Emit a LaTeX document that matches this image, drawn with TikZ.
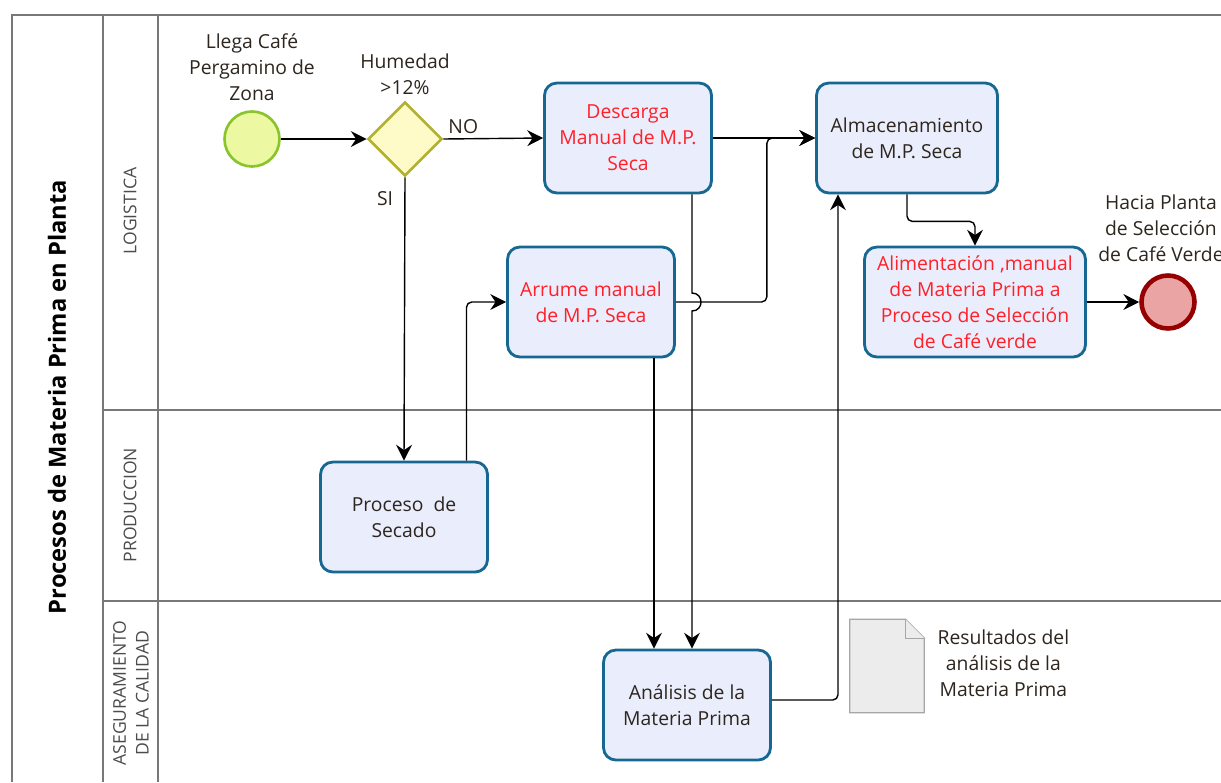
\documentclass[tikz,border=0pt]{standalone}
\usepackage{fontspec}
\setmainfont{Open Sans}
\usetikzlibrary{arrows.meta,shapes.geometric,positioning}
\definecolor{taskfill}{RGB}{234,237,252}
\definecolor{taskline}{RGB}{22,104,146}
\definecolor{poolgray}{RGB}{120,120,120}
\definecolor{txtred}{RGB}{255,32,40}
\definecolor{txtdark}{RGB}{45,38,30}
\definecolor{startfill}{RGB}{236,249,162}
\definecolor{startline}{RGB}{138,196,45}
\definecolor{endfill}{RGB}{234,164,164}
\definecolor{endline}{RGB}{150,0,0}
\definecolor{gatefill}{RGB}{255,251,200}
\definecolor{gateline}{RGB}{178,178,50}
\tikzset{
  txt/.style={align=center, text=txtdark, font=\fontsize{11}{14.7}\selectfont},
  task/.style={txt, draw=taskline, fill=taskfill, line width=1.6pt, rounded corners=7pt,
    minimum width=3.34cm, minimum height=2.2cm, inner sep=2pt},
  redtask/.style={task, text=txtred},
  startev/.style={circle, draw=startline, fill=startfill, line width=1.5pt, minimum size=1.1cm, inner sep=0pt},
  endev/.style={circle, draw=endline, fill=endfill, line width=2.6pt, minimum size=1.06cm, inner sep=0pt},
  gate/.style={diamond, draw=gateline, fill=gatefill, line width=1.5pt, minimum size=1.48cm, inner sep=0pt},
  doc/.style={draw=gray!70, fill=gray!15, line width=0.7pt, line join=round},
  pool/.style={draw=poolgray, line width=1.1pt},
  lanelbl/.style={rotate=90, align=center, text=black!70, font=\fontsize{10}{13}\selectfont},
  flow/.style={-{Stealth[length=9pt,width=9pt,inset=3pt]}, line width=0.8pt, rounded corners=3pt}
}
\begin{document}
\begin{tikzpicture}[x=0.02cm, y=-0.02cm]
\useasboundingbox (0,0) rectangle (1221,782);
\fill[white] (0,0) rectangle (1221,782);
\draw[pool] (12,782) -- (12,15) -- (1221,15);
\draw[pool] (103,15) -- (103,782);
\draw[pool] (158,15) -- (158,782);
\draw[pool] (103,410) -- (1221,410);
\draw[pool] (103,601) -- (1221,601);
\node[rotate=90, font=\fontsize{13.5}{16}\selectfont\bfseries] (pooltitle) at (57,397) {Procesos de Materia Prima en Planta};
\node[lanelbl] (loglane) at (130,211) {LOGISTICA};
\node[lanelbl] (prodlane) at (130,505) {PRODUCCION};
\node[lanelbl] (asegurlane) at (131,693) {ASEGURAMIENTO\\DE LA CALIDAD};

\node[startev] (llega) at (252,139) {};
\node[txt, above=2pt of llega] (llegalbl) {Llega Café\\Pergamino de\\Zona};
\node[gate] (humedad) at (405,139) {};
\node[txt, above=0pt of humedad] (humedadlbl) {Humedad\\>12\%};
\node[redtask] (descarga) at (628,138) {Descarga\\Manual de M.P.\\Seca};
\node[task, minimum width=3.62cm] (almac) at (907,138) {Almacenamiento\\de M.P. Seca};
\node[redtask] (arrume) at (591,302) {Arrume manual\\de M.P. Seca};
\node[redtask, minimum width=4.42cm] (alim) at (975,302) {Alimentación ,manual\\de Materia Prima a\\Proceso de Selección\\de Café verde};
\node[endev] (hacia) at (1168,302) {};
\node[txt, above=3pt of hacia, xshift=-4pt] (hacialbl) {Hacia Planta\\de Selección\\de Café Verde};
\node[task] (secado) at (404,517) {Proceso~ de\\Secado};
\node[task] (analisis) at (687,705) {Análisis de la\\Materia Prima};
\node[minimum width=1.48cm, minimum height=1.86cm, inner sep=0pt] (resdoc) at (887,666) {};
\draw[doc] (resdoc.north west) -- ([xshift=-0.38cm]resdoc.north east) -- ([yshift=-0.38cm]resdoc.north east) -- (resdoc.south east) -- (resdoc.south west) -- cycle;
\draw[doc] ([xshift=-0.38cm]resdoc.north east) |- ([yshift=-0.38cm]resdoc.north east);
\node[txt, right=0.14cm of resdoc, yshift=0.05cm] (reslbl) {Resultados del\\análisis de la\\Materia Prima};

\coordinate (hop) at (692,302);
\draw[flow] (llega) -- (humedad);
\draw[flow] (humedad.east) -- (descarga.west) node[txt, pos=0.2, above=-1pt] (nolbl) {NO};
\draw[flow] (humedad.south) -- (secado.north) node[txt, pos=0.075, left=3pt] (silbl) {SI};
\draw[flow] (descarga.east) -- (almac.west);
\draw[flow] (arrume.east) -- ++(91,0) |- (almac.west);
\draw[flow, rounded corners=0pt] ([xshift=1.28cm]descarga.south) -- ([yshift=0.18cm]hop) .. controls ([xshift=0.24cm,yshift=0.18cm]hop) and ([xshift=0.24cm,yshift=-0.18cm]hop) .. ([yshift=-0.18cm]hop) -- (hop |- analisis.north);
\draw[flow] ([xshift=1.26cm]arrume.south) -- ([xshift=1.26cm]arrume.south |- analisis.north);
\draw[flow] ([xshift=1.25cm]secado.north) |- (arrume.west);
\draw[flow] ([yshift=0.1cm]analisis.east) -| ([xshift=-1.38cm]almac.south);
\draw[flow] (almac.south) -- ++(0,27) -| (alim.north);
\draw[flow] (alim) -- (hacia);
\end{tikzpicture}
\end{document}
